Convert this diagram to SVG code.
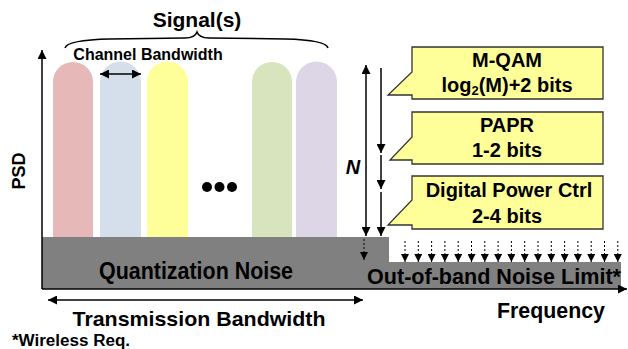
<svg xmlns="http://www.w3.org/2000/svg" width="628" height="349" viewBox="0 0 628 349">
<style>
text{font-family:"Liberation Sans",Arial,sans-serif;font-weight:bold;fill:#000}
.ln{stroke:#000;stroke-width:1.5;fill:none}
.dash{stroke:#000;stroke-width:1;stroke-dasharray:2,2;fill:none}
.call{fill:#FFFF99;stroke:#333;stroke-width:1.3}
.mid{text-anchor:middle}
</style>
<defs>
<marker id="ah" viewBox="0 0 10 10" refX="10" refY="5" markerWidth="10" markerHeight="9" markerUnits="userSpaceOnUse" orient="auto-start-reverse"><path d="M0,0 L10,5 L0,10 z" fill="#000"/></marker>
<marker id="ahs" viewBox="0 0 10 10" refX="10" refY="5" markerWidth="9" markerHeight="8" markerUnits="userSpaceOnUse" orient="auto"><path d="M0,0 L10,5 L0,10 z" fill="#000"/></marker>
</defs>

<g id="signals">
<path d="M53,237 V82 A20,20 0 0 1 93,82 V237 Z" fill="#E6B9B8"/>
<path d="M100,237 V82 A20.5,20.5 0 0 1 141,82 V237 Z" fill="#D5DFEB"/>
<path d="M147,237 V82 A20.5,20.5 0 0 1 188,82 V237 Z" fill="#FFFF99"/>
<path d="M252,237 V82 A20,20 0 0 1 292,82 V237 Z" fill="#D7E4BD"/>
<path d="M296,237 V82 A20.5,20.5 0 0 1 337,82 V237 Z" fill="#DCD6E6"/>
<circle cx="207" cy="187" r="5" fill="#000"/>
<circle cx="219.5" cy="187" r="5" fill="#000"/>
<circle cx="232" cy="187" r="5" fill="#000"/>
</g>

<g id="noise">
<path d="M42,237 H389 V262 H621 V289 H42 Z" fill="#808080"/>
<text x="196" y="279" class="mid" font-size="23" textLength="194" lengthAdjust="spacingAndGlyphs">Quantization Noise</text>
<text x="494" y="284" class="mid" font-size="22" textLength="254" lengthAdjust="spacingAndGlyphs">Out-of-band Noise Limit*</text>
</g>

<g id="callout1">
<path class="call" d="M412,47 H603 V99 H412 V95 L388,95 L412,72 Z"/>
<text x="507" y="67" class="mid" font-size="20">M-QAM</text>
<text x="507" y="92" class="mid" font-size="20">log<tspan font-size="13" dy="3">2</tspan><tspan dy="-3">(M)+2 bits</tspan></text>
</g>
<g id="callout2">
<path class="call" d="M412,112 H603 V164 H412 V160 L390,160 L412,137 Z"/>
<text x="507" y="132" class="mid" font-size="20">PAPR</text>
<text x="507" y="157" class="mid" font-size="20">1-2 bits</text>
</g>
<g id="callout3">
<path class="call" d="M412,176 H603 V229 H412 V225 L388,225 L412,200 Z"/>
<text x="509" y="197" class="mid" font-size="20">Digital Power Ctrl</text>
<text x="507" y="223" class="mid" font-size="20">2-4 bits</text>
</g>

<g id="connectors">
<line class="ln" x1="42" y1="289" x2="42" y2="50" marker-end="url(#ah)"/>
<line class="ln" x1="42" y1="289" x2="627" y2="289" marker-end="url(#ah)"/>
<line class="ln" x1="48" y1="300" x2="363" y2="300" marker-start="url(#ah)" marker-end="url(#ah)"/>
<line class="ln" x1="100" y1="74" x2="141" y2="74" marker-start="url(#ah)" marker-end="url(#ah)"/>
<path class="ln" stroke-width="1" d="M65,48 Q67,40 110,39 L185,38 Q195,38 197,32 Q199,38 209,38 L285,39 Q326,40 328,48"/>
<line class="ln" x1="366" y1="65" x2="366" y2="236" marker-start="url(#ah)" marker-end="url(#ah)"/>
<line class="ln" x1="381" y1="68" x2="381" y2="153" marker-end="url(#ah)"/>
<line class="ln" x1="381" y1="155" x2="381" y2="189" marker-end="url(#ah)"/>
<line class="ln" x1="381" y1="192" x2="381" y2="236" marker-end="url(#ah)"/>
<line class="dash" x1="364" y1="239" x2="364" y2="260" marker-end="url(#ahs)"/>
<g class="dash">
<line x1="405" y1="241" x2="405" y2="262" marker-end="url(#ahs)"/>
<line x1="418.3" y1="241" x2="418.3" y2="262" marker-end="url(#ahs)"/>
<line x1="431.6" y1="241" x2="431.6" y2="262" marker-end="url(#ahs)"/>
<line x1="444.9" y1="241" x2="444.9" y2="262" marker-end="url(#ahs)"/>
<line x1="458.2" y1="241" x2="458.2" y2="262" marker-end="url(#ahs)"/>
<line x1="471.5" y1="241" x2="471.5" y2="262" marker-end="url(#ahs)"/>
<line x1="484.8" y1="241" x2="484.8" y2="262" marker-end="url(#ahs)"/>
<line x1="498.1" y1="241" x2="498.1" y2="262" marker-end="url(#ahs)"/>
<line x1="511.4" y1="241" x2="511.4" y2="262" marker-end="url(#ahs)"/>
<line x1="524.7" y1="241" x2="524.7" y2="262" marker-end="url(#ahs)"/>
<line x1="538" y1="241" x2="538" y2="262" marker-end="url(#ahs)"/>
<line x1="551.3" y1="241" x2="551.3" y2="262" marker-end="url(#ahs)"/>
<line x1="564.6" y1="241" x2="564.6" y2="262" marker-end="url(#ahs)"/>
<line x1="577.9" y1="241" x2="577.9" y2="262" marker-end="url(#ahs)"/>
<line x1="591.2" y1="241" x2="591.2" y2="262" marker-end="url(#ahs)"/>
<line x1="604.5" y1="241" x2="604.5" y2="262" marker-end="url(#ahs)"/>
<line x1="617.8" y1="241" x2="617.8" y2="262" marker-end="url(#ahs)"/>
</g>
</g>

<g id="labels">
<text x="197" y="27" class="mid" font-size="21">Signal(s)</text>
<text x="148" y="60" class="mid" font-size="16">Channel Bandwidth</text>
<text transform="translate(25,171) rotate(-90)" class="mid" font-size="18">PSD</text>
<text x="353" y="174" class="mid" font-size="20" font-style="italic">N</text>
<text x="551" y="318" class="mid" font-size="22" textLength="108" lengthAdjust="spacingAndGlyphs">Frequency</text>
<text x="199" y="326" class="mid" font-size="21" textLength="253" lengthAdjust="spacingAndGlyphs">Transmission Bandwidth</text>
<text x="12" y="346" font-size="16" textLength="118" lengthAdjust="spacingAndGlyphs">*Wireless Req.</text>
</g>
</svg>
